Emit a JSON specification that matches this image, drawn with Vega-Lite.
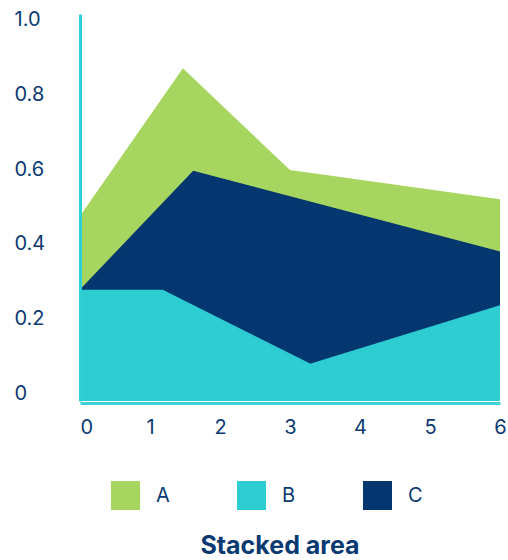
{
  "$schema": "https://vega.github.io/schema/vega-lite/v6.json",
  "width": 420,
  "height": 387,
  "autosize": {"type": "none"},
  "padding": {"left": 80, "top": 14, "right": 8, "bottom": 159},
  "background": "white",
  "config": {
    "view": {"stroke": null},
    "font": "Inter",
    "axis": {"grid": false, "ticks": false, "tickSize": 0}
  },
  "title": {
    "text": "Stacked area",
    "orient": "bottom",
    "anchor": "middle",
    "frame": "group",
    "font": "Inter",
    "fontSize": 25,
    "fontWeight": "bold",
    "color": "#0B3A72",
    "dx": -10,
    "offset": 24
  },
  "data": {
    "values": [
      {"series": "A", "x": 0, "top": 0.496},
      {"series": "A", "x": 1.47, "top": 0.892},
      {"series": "A", "x": 3.0, "top": 0.619},
      {"series": "A", "x": 6, "top": 0.541},
      {"series": "C", "x": 0, "top": 0.296},
      {"series": "C", "x": 1.62, "top": 0.615},
      {"series": "C", "x": 6, "top": 0.399},
      {"series": "B", "x": 0, "top": 0.296},
      {"series": "B", "x": 1.18, "top": 0.296},
      {"series": "B", "x": 3.29, "top": 0.098},
      {"series": "B", "x": 6, "top": 0.255}
    ]
  },
  "encoding": {
    "x": {
      "field": "x",
      "type": "quantitative",
      "scale": {"domain": [0, 6], "nice": false, "zero": false},
      "axis": {
        "title": null,
        "zindex": 1,
        "values": [0, 1, 2, 3, 4, 5, 6],
        "format": "d",
        "offset": 2,
        "domainColor": "#3FD3D8",
        "domainWidth": 3,
        "labelFont": "Inter",
        "labelFontSize": 20,
        "labelColor": "#0B3A72",
        "labelBaseline": "alphabetic",
        "labelPadding": 30,
        "labelAlign": {"condition": {"test": "datum.value === 0", "value": "left"}, "value": "center"}
      }
    },
    "y": {
      "field": "top",
      "type": "quantitative",
      "scale": {"domain": [0, 1.0375], "nice": false},
      "axis": {
        "title": null,
        "zindex": 1,
        "values": [0, 0.2, 0.4, 0.6, 0.8, 1.0],
        "labelExpr": "datum.value === 0 ? '0' : format(datum.value, '.1f')",
        "domainColor": "#2DD0D6",
        "domainWidth": 3,
        "labelFont": "Inter",
        "labelFontSize": 20,
        "labelColor": "#0B3A72",
        "labelAlign": "left",
        "labelBaseline": "alphabetic",
        "labelPadding": 66,
        "labelOffset": -2
      }
    },
    "color": {
      "field": "series",
      "type": "nominal",
      "scale": {"domain": ["A", "B", "C"], "range": ["#A6D65F", "#2DCDD2", "#04366F"]},
      "legend": {
        "title": null,
        "orient": "none",
        "legendX": 31,
        "legendY": 467,
        "direction": "horizontal",
        "symbolType": "square",
        "symbolSize": 841,
        "symbolStrokeWidth": 0,
        "symbolOpacity": 1,
        "labelFont": "Inter",
        "labelFontSize": 20,
        "labelColor": "#0B3A72",
        "labelOffset": 16,
        "columnPadding": 67
      }
    }
  },
  "layer": [
    {
      "transform": [{"filter": "datum.series === 'A'"}],
      "mark": {"type": "area", "opacity": 1}
    },
    {
      "transform": [{"filter": "datum.series === 'C'"}],
      "mark": {"type": "area", "opacity": 1, "line": {"color": "white", "strokeWidth": 1.5}}
    },
    {
      "transform": [{"filter": "datum.series === 'B'"}],
      "mark": {"type": "area", "opacity": 1, "line": {"color": "white", "strokeWidth": 1.5}}
    }
  ]
}
